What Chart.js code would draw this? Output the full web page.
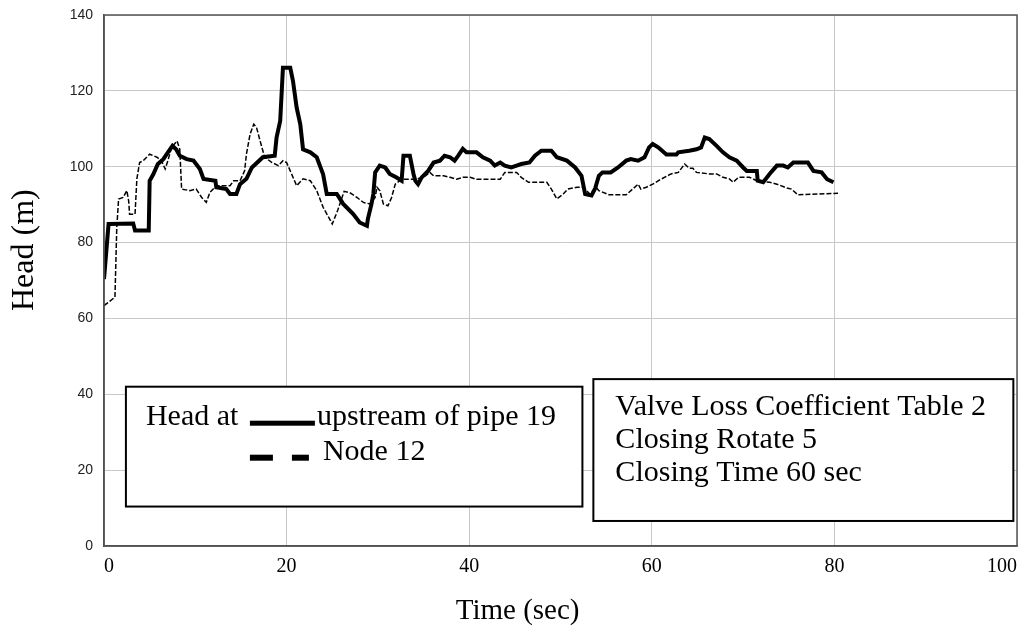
<!DOCTYPE html>
<html>
<head>
<meta charset="utf-8">
<script src="https://cdn.jsdelivr.net/npm/chart.js@4/dist/chart.umd.min.js"></script>
<style>
  html, body { margin: 0; padding: 0; background: #fff; }
  #wrap { width: 1020px; height: 632px; }
</style>
</head>
<body>
<div id="wrap"><canvas id="headChart" width="1020" height="632"></canvas></div>
<script>
// head at upstream of pipe 19 (solid)
const upstreamTime = [0, 0.5, 3.2, 3.4, 4.9, 5.0, 5.4, 5.9, 6.5, 7.0, 7.5, 7.9, 8.3, 9.05, 9.8, 10.5, 10.9, 12.2, 12.3, 13.4,
  13.8, 14.5, 14.9, 15.6, 16.2, 17.4, 18.7, 18.9, 19.3, 19.6, 20.4, 20.7, 21.1, 21.5, 21.8, 22.6, 23.3, 24.0, 24.4, 25.5,
  26.2, 27.3, 28.0, 28.8, 28.9, 29.3, 29.5, 29.7, 30.2, 30.8, 31.3, 32.0, 32.6, 32.8, 33.5, 33.9, 34.1, 34.4, 34.8, 35.5,
  36.1, 36.8, 37.3, 37.9, 38.4, 38.8, 39.3, 39.7, 40.8, 41.5, 42.3, 42.8, 43.4, 43.9, 44.6, 45.2, 45.7, 46.6, 47.2, 47.9,
  49.0, 49.6, 50.7, 51.6, 52.3, 52.7, 53.4, 53.8, 54.2, 54.6, 55.5, 56.3, 57.2, 57.7, 58.5, 59.2, 59.7, 60.1, 60.7, 61.6,
  62.7, 62.9, 64.1, 64.9, 65.4, 65.8, 66.3, 67.1, 67.8, 68.5, 69.3, 70.0, 70.4, 71.5, 71.6, 72.2, 72.9, 73.7, 74.4, 74.9,
  75.5, 77.1, 77.7, 78.6, 79.2, 79.9];
const upstreamHead = [70.4, 84.9, 85.0, 83.2, 83.2, 96.3, 98.0, 100.7, 102.0, 103.8, 105.5, 104.6, 102.9, 102.0, 101.6, 99.4, 96.8, 96.3, 94.6, 94.1,
  92.8, 92.8, 95.4, 96.8, 99.8, 102.5, 102.9, 107.7, 112.1, 126.1, 126.1, 122.6, 115.6, 111.2, 104.6, 103.8, 102.5, 98.0, 92.8, 92.8,
  90.2, 87.5, 85.3, 84.4, 86.2, 90.2, 92.8, 98.5, 100.3, 99.8, 98.1, 97.2, 96.3, 102.9, 102.9, 98.1, 96.3, 95.4, 97.2, 98.9,
  101.1, 101.6, 102.9, 102.5, 101.6, 102.9, 104.7, 103.8, 103.8, 102.5, 101.6, 100.3, 101.1, 100.3, 99.8, 100.3, 100.7, 101.1, 102.9, 104.2,
  104.2, 102.5, 101.6, 99.8, 97.6, 92.8, 92.4, 94.3, 97.6, 98.5, 98.5, 99.8, 101.6, 102.0, 101.6, 102.5, 105.1, 106.0, 105.1, 103.2,
  103.2, 103.8, 104.2, 104.6, 105.1, 107.7, 107.3, 105.5, 103.8, 102.5, 101.6, 99.8, 98.9, 98.9, 96.3, 95.9, 98.1, 100.3, 100.3, 99.8,
  101.1, 101.1, 98.9, 98.5, 96.7, 95.9];

// head at node 12 (dashed)
const nodeTime = [0, 0.5, 1.2, 1.4, 1.6, 2.1, 2.5, 2.7, 2.8, 3.4, 3.6, 3.9, 4.3, 5.0, 5.8, 6.3, 6.7, 7.0, 7.4, 8.0,
  8.3, 8.5, 9.4, 10.1, 10.7, 11.2, 11.6, 12.3, 13.8, 14.2, 14.9, 15.4, 15.6, 16.0, 16.4, 16.7, 17.1, 17.4, 17.6, 18.4,
  19.1, 19.6, 20.0, 20.4, 21.1, 21.8, 22.6, 23.3, 24.0, 24.6, 25.0, 25.6, 26.3, 26.9, 27.7, 28.4, 29.1, 29.7, 29.9, 30.2,
  30.6, 31.1, 31.5, 31.9, 32.4, 32.8, 34.2, 35.0, 35.7, 36.1, 37.2, 37.9, 38.6, 39.3, 40.1, 40.8, 43.4, 43.9, 45.2, 45.7,
  46.5, 48.5, 49.0, 49.6, 50.3, 50.8, 51.8, 52.5, 53.2, 53.9, 54.2, 55.3, 57.2, 57.9, 58.5, 58.8, 59.4, 60.1, 61.0, 62.1,
  62.9, 63.6, 64.1, 64.5, 64.9, 66.3, 67.1, 67.8, 68.5, 68.9, 69.5, 70.7, 71.5, 72.9, 73.7, 74.8, 75.3, 76.0, 80.4];
const nodeHead = [63.4, 64.3, 65.6, 84.0, 91.5, 91.9, 93.7, 91.0, 87.5, 87.5, 96.8, 101.1, 101.6, 103.3, 102.5, 101.6, 99.4, 101.6, 105.1, 106.8,
  104.6, 94.1, 93.7, 94.1, 91.9, 90.6, 93.2, 95.0, 95.0, 96.3, 96.3, 98.9, 103.3, 108.6, 111.2, 110.4, 106.8, 104.2, 102.5, 101.1,
  100.3, 101.6, 101.1, 98.9, 95.0, 96.8, 96.3, 93.7, 89.3, 86.7, 84.9, 88.5, 93.5, 93.2, 91.9, 90.6, 90.2, 91.9, 94.6, 93.7,
  90.2, 89.7, 91.9, 95.4, 96.3, 96.7, 96.7, 97.2, 98.5, 97.6, 97.6, 97.2, 96.7, 97.2, 97.2, 96.7, 96.7, 98.5, 98.5, 97.2,
  95.9, 95.9, 94.1, 91.5, 92.8, 94.1, 94.6, 94.6, 92.8, 94.6, 93.7, 92.6, 92.6, 94.1, 95.4, 94.1, 94.6, 95.4, 96.7, 98.1,
  98.5, 100.7, 99.6, 99.6, 98.5, 98.1, 98.1, 97.2, 96.8, 95.9, 97.2, 97.2, 96.3, 95.9, 95.4, 94.4, 94.1, 92.6, 93.0];

const xTicks = [0, 20, 40, 60, 80, 100];
const yTicks = [0, 20, 40, 60, 80, 100, 120, 140];
const seriesLabels = ['upstream of pipe 19', 'Node 12'];
const noteLines = ['Valve Loss Coefficient Table 2', 'Closing Rotate 5', 'Closing Time 60 sec'];

const serif = '"Liberation Serif", "Times New Roman", serif';

function pairs(xs, ys) {
  return xs.map((x, i) => ({ x: x, y: ys[i] }));
}

const decorations = {
  id: 'decorations',
  beforeDraw(chart) {
    const ctx = chart.ctx;
    ctx.save();
    ctx.fillStyle = '#fff';
    ctx.fillRect(0, 0, chart.width, chart.height);
    ctx.restore();
  },
  afterDraw(chart) {
    const ctx = chart.ctx;
    const a = chart.chartArea;
    const xs = chart.scales.x, ys = chart.scales.y;
    ctx.save();

    // frame round the plot
    ctx.strokeStyle = '#555';
    ctx.lineWidth = 1.5;
    ctx.strokeRect(a.left, a.top, a.right - a.left, a.bottom - a.top);

    // axis titles
    ctx.fillStyle = '#000';
    ctx.textAlign = 'center';
    ctx.textBaseline = 'middle';
    ctx.font = '29px ' + serif;
    ctx.fillText('Time (sec)', xs.getPixelForValue(45.3), 611);
    ctx.save();
    ctx.font = '32px ' + serif;
    ctx.translate(25, ys.getPixelForValue(78));
    ctx.rotate(-Math.PI / 2);
    ctx.fillText('Head (m)', 0, 0);
    ctx.restore();

    // legend box
    const lx = xs.getPixelForValue(2.4), rx = xs.getPixelForValue(52.4);
    const ty = ys.getPixelForValue(42), by = ys.getPixelForValue(10.4);
    ctx.fillStyle = '#fff';
    ctx.fillRect(lx, ty, rx - lx, by - ty);
    ctx.strokeStyle = '#000';
    ctx.lineWidth = 2;
    ctx.strokeRect(lx, ty, rx - lx, by - ty);

    ctx.fillStyle = '#000';
    ctx.font = '30px ' + serif;
    ctx.textAlign = 'left';
    ctx.textBaseline = 'alphabetic';
    ctx.fillText('Head at', lx + 20, ty + 38);
    ctx.fillRect(lx + 124, ty + 34, 65, 5);
    ctx.fillText(seriesLabels[0], lx + 191, ty + 38);
    ctx.fillRect(lx + 124, ty + 68, 23, 6);
    ctx.fillRect(lx + 166, ty + 68, 17, 6);
    ctx.fillText(seriesLabels[1], lx + 197, ty + 73);

    // note box
    const nx = xs.getPixelForValue(53.6), nr = xs.getPixelForValue(99.6);
    const nt = ys.getPixelForValue(44), nb = ys.getPixelForValue(6.6);
    ctx.fillStyle = '#fff';
    ctx.fillRect(nx, nt, nr - nx, nb - nt);
    ctx.strokeStyle = '#000';
    ctx.strokeRect(nx, nt, nr - nx, nb - nt);
    ctx.fillStyle = '#000';
    noteLines.forEach((line, i) => {
      ctx.fillText(line, nx + 22, nt + 36 + i * 33);
    });

    ctx.restore();
  }
};

const chart = new Chart(document.getElementById('headChart').getContext('2d'), {
  type: 'line',
  data: {
    datasets: [
      {
        label: seriesLabels[0],
        data: pairs(upstreamTime, upstreamHead),
        borderColor: '#000',
        borderWidth: 4,
        pointRadius: 0,
        tension: 0
      },
      {
        label: seriesLabels[1],
        data: pairs(nodeTime, nodeHead),
        borderColor: '#000',
        borderWidth: 1.5,
        borderDash: [5, 2],
        pointRadius: 0,
        tension: 0
      }
    ]
  },
  options: {
    responsive: false,
    animation: false,
    devicePixelRatio: 1,
    layout: { padding: { left: 0, right: 3, top: 15, bottom: 0 } },
    plugins: {
      legend: { display: false },
      tooltip: { enabled: false }
    },
    scales: {
      x: {
        type: 'linear',
        min: 0,
        max: 100,
        afterBuildTicks: s => { s.ticks = xTicks.map(v => ({ value: v })); },
        afterFit: s => { s.height = 86; s.paddingLeft = 0; s.paddingRight = 0; },
        grid: { color: '#c8c8c8', lineWidth: 1, drawTicks: false },
        border: { display: true, color: '#444', width: 1.5 },
        ticks: {
          align: 'inner',
          maxRotation: 0,
          padding: 9,
          color: '#000',
          font: { family: serif, size: 20 }
        }
      },
      y: {
        min: 0,
        max: 140,
        afterBuildTicks: s => { s.ticks = yTicks.map(v => ({ value: v })); },
        afterFit: s => { s.width = 104; s.paddingTop = 0; s.paddingBottom = 0; },
        grid: { color: '#c8c8c8', lineWidth: 1, drawTicks: false },
        border: { display: true, color: '#444', width: 1.5 },
        ticks: {
          padding: 11,
          color: '#222',
          font: { family: '"Liberation Sans", Arial, sans-serif', size: 14 }
        }
      }
    }
  },
  plugins: [decorations]
});
</script>
</body>
</html>
